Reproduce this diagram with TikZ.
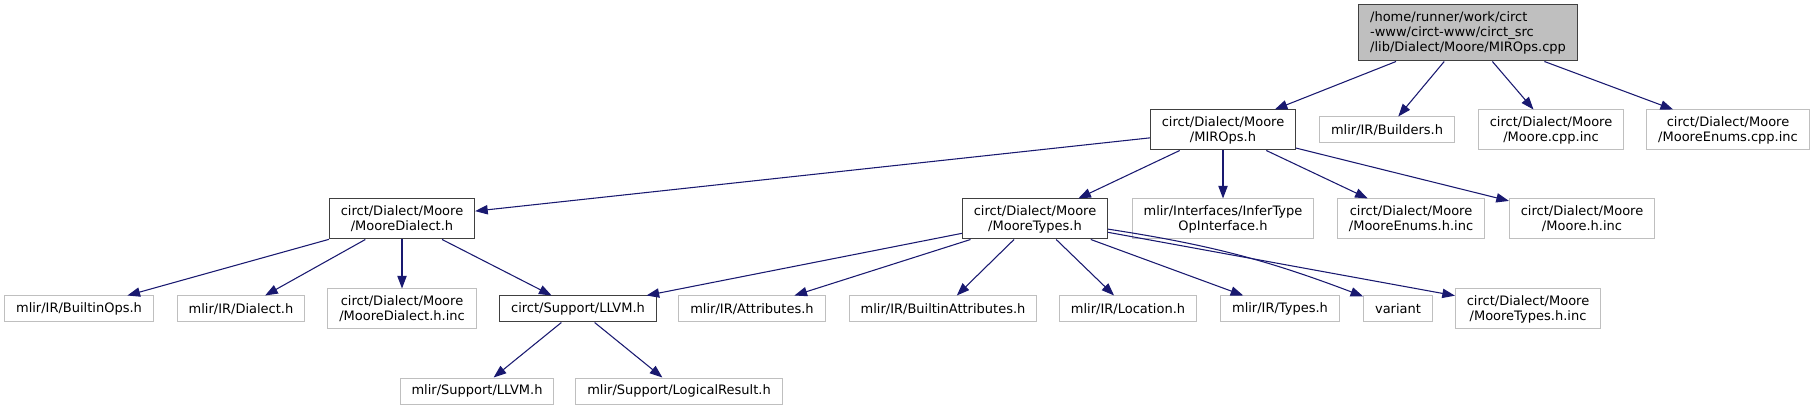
\documentclass[tikz,border=0pt]{standalone}
\usepackage{fontspec}
\setmainfont{DejaVu Sans}
\usetikzlibrary{arrows.meta}

\definecolor{edgeblue}{HTML}{191970}
\definecolor{docgray}{HTML}{404040}
\definecolor{extgray}{HTML}{BFBFBF}

\begin{document}
\begin{tikzpicture}[
    x=0.75pt, y=-0.75pt,
    file/.style={draw, line width=0.75pt, align=center, inner xsep=8.5pt, inner ysep=0pt,
                 minimum height=19.5pt, font=\fontsize{9.75}{11.25}\selectfont},
    tall/.style={minimum height=30pt},
    hdr/.style={file, draw=docgray},
    ext/.style={file, draw=extgray},
    top/.style={file, draw=docgray, fill=extgray, align=left, minimum height=42pt},
    arr/.style={-{Triangle[length=9.5pt, width=7pt]}, line width=0.8pt, edgeblue},
]
\useasboundingbox (0,0) rectangle (1815,409);

% root file
\node[top] (root) at (1468,33) {/home/runner/work/circt\\-www/circt-www/circt\_src\\/lib/Dialect/Moore/MIROps.cpp};

% first level
\node[hdr, tall] (miro) at (1223,130) {circt/Dialect/Moore\\/MIROps.h};
\node[ext] (builders) at (1387,130) {mlir/IR/Builders.h};
\node[ext, tall] (moorecpp) at (1551,130) {circt/Dialect/Moore\\/Moore.cpp.inc};
\node[ext, tall] (enumscpp) at (1728,130) {circt/Dialect/Moore\\/MooreEnums.cpp.inc};

% second level
\node[hdr, tall] (dialect) at (402,219) {circt/Dialect/Moore\\/MooreDialect.h};
\node[hdr, tall] (types) at (1035,219) {circt/Dialect/Moore\\/MooreTypes.h};
\node[ext, tall] (infer) at (1223,219) {mlir/Interfaces/InferType\\OpInterface.h};
\node[ext, tall] (enumsh) at (1411,219) {circt/Dialect/Moore\\/MooreEnums.h.inc};
\node[ext, tall] (mooreh) at (1582,219) {circt/Dialect/Moore\\/Moore.h.inc};

% third level
\node[ext] (builtinops) at (79,309) {mlir/IR/BuiltinOps.h};
\node[ext] (dialecth) at (241,309) {mlir/IR/Dialect.h};
\node[ext, tall] (dialectinc) at (402,309) {circt/Dialect/Moore\\/MooreDialect.h.inc};
\node[hdr] (llvm) at (578,309) {circt/Support/LLVM.h};
\node[ext] (attrs) at (752,309) {mlir/IR/Attributes.h};
\node[ext] (battrs) at (943,309) {mlir/IR/BuiltinAttributes.h};
\node[ext] (location) at (1128,309) {mlir/IR/Location.h};
\node[ext] (typesh) at (1280,309) {mlir/IR/Types.h};
\node[ext] (variant) at (1398,309) {variant};
\node[ext, tall] (typesinc) at (1528,309) {circt/Dialect/Moore\\/MooreTypes.h.inc};

% fourth level
\node[ext] (mllvm) at (477,391) {mlir/Support/LLVM.h};
\node[ext] (logical) at (679,391) {mlir/Support/LogicalResult.h};

% edges
\draw[arr] (root) -- (miro);
\draw[arr] (root) -- (builders);
\draw[arr] (root) -- (moorecpp);
\draw[arr] (root) -- (enumscpp);

\draw[arr] (miro) -- (dialect);
\draw[arr] (miro) -- (types);
\draw[arr] (miro) -- (infer);
\draw[arr] (miro) -- (enumsh);
\draw[arr] (miro) -- (mooreh);

\draw[arr] (dialect) -- (builtinops);
\draw[arr] (dialect) -- (dialecth);
\draw[arr] (dialect) -- (dialectinc);
\draw[arr] (dialect) -- (llvm);

\draw[arr] (types) -- (llvm);
\draw[arr] (types) -- (attrs);
\draw[arr] (types) -- (battrs);
\draw[arr] (types) -- (location);
\draw[arr] (types) -- (typesh);
\draw[arr] (types) to[bend left=6] (variant);
\draw[arr] (types) -- (typesinc);

\draw[arr] (llvm) -- (mllvm);
\draw[arr] (llvm) -- (logical);

\end{tikzpicture}
\end{document}
